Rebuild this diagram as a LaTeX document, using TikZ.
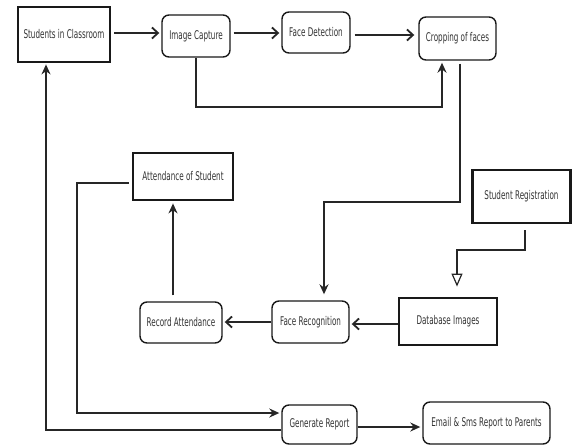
\documentclass[tikz,border=0pt]{standalone}
\usepackage{fontspec}
\newfontfamily\lbl[FakeStretch=0.6]{DejaVu Sans}
\usetikzlibrary{arrows.meta}
\tikzset{
  base/.style={draw=black!90, inner sep=0pt, text=black!80, font=\lbl\fontsize{12}{14}\selectfont, align=center},
  thickbox/.style={base, line width=2.8pt},
  roundbox/.style={base, line width=1.4pt, rounded corners=7pt},
  conn/.style={line width=1.6pt, draw=black!85},
  barb/.style={conn, -{Straight Barb[length=6pt,width=11pt,line width=1.8pt]}},
  filled/.style={conn, -{Stealth[length=10pt,width=9pt]}},
  hollow/.style={conn, -{Triangle[open,length=13pt,width=11pt,line width=1.2pt]}},
}
\begin{document}
\begin{tikzpicture}[x=1pt,y=-1pt]
\useasboundingbox (0,0) rectangle (573,445);
\node[thickbox, minimum width=92pt, minimum height=55pt] (stud) at (64,34.5) {Students in Classroom};
\node[roundbox, minimum width=68pt, minimum height=42pt] (imgcap) at (196,36) {Image Capture};
\node[roundbox, minimum width=68pt, minimum height=41pt] (facedet) at (316,32.5) {Face Detection};
\node[roundbox, minimum width=77pt, minimum height=43pt] (crop) at (457.5,38.5) {Cropping of faces};
\node[thickbox, minimum width=100pt, minimum height=47pt] (att) at (183,176.5) {Attendance of Student};
\node[thickbox, minimum width=98pt, minimum height=53pt] (reg) at (521.5,196.5) {Student Registration};
\node[thickbox, minimum width=98pt, minimum height=47pt] (db) at (448,321.5) {Database Images};
\node[roundbox, minimum width=77pt, minimum height=42pt] (facerec) at (310.5,322) {Face Recognition};
\node[roundbox, minimum width=82pt, minimum height=41pt] (rec) at (181,322.5) {Record Attendance};
\node[roundbox, minimum width=75pt, minimum height=39pt] (gen) at (319.5,424.5) {Generate Report};
\node[roundbox, minimum width=127pt, minimum height=42pt] (email) at (486.5,423) {Email \& Sms Report to Parents};

\coordinate (c1) at (196,107);
\coordinate (c2) at (442,107);
\coordinate (d1) at (460,202);
\coordinate (d2) at (324,202);
\coordinate (r1) at (525,250);
\coordinate (r2) at (457,250);
\coordinate (a1) at (77,183);
\coordinate (a2) at (77,413);
\coordinate (g1) at (46,430);

% top row
\draw[barb, shorten <=3pt, shorten >=2pt] (stud.east |- 0,33) -- (imgcap.west |- 0,33);
\draw[barb, shorten <=3pt, shorten >=2pt] (imgcap.east |- 0,33) -- (facedet.west |- 0,33);
\draw[barb, shorten <=4pt, shorten >=4pt] (facedet.east |- 0,35) -- (crop.west |- 0,35);
% image capture to cropping
\draw[filled, shorten >=2pt] (imgcap.south) -- (c1) -- (c2) -- (crop.south -| c2);
% cropping to face recognition
\draw[filled, shorten <=3pt, shorten >=6pt] (crop.south -| d1) -- (d1) -- (d2) -- (facerec.north -| d2);
% registration to database
\draw[hollow, shorten <=6pt, shorten >=10pt] (reg.south -| r1) -- (r1) -- (r2) -- (db.north -| r2);
% database to face recognition
\draw[barb, shorten >=2pt] (db.west |- 0,324) -- (facerec.east |- 0,324);
% face recognition to record attendance
\draw[barb, shorten >=2pt] (facerec.west |- 0,322) -- (rec.east |- 0,322);
% record to attendance
\draw[filled, shorten <=6pt, shorten >=2pt] (rec.north -| 173,0) -- (att.south -| 173,0);
% attendance to generate report
\draw[filled, shorten <=3pt, shorten >=2pt] (att.west |- a1) -- (a1) -- (a2) -- (gen.west |- a2);
% generate report back to students
\draw[filled, shorten >=1pt] (gen.west |- g1) -- (g1) -- (stud.south -| g1);
% generate to email
\draw[filled, shorten >=2pt] (gen.east |- 0,427) -- (email.west |- 0,427);
\end{tikzpicture}
\end{document}
